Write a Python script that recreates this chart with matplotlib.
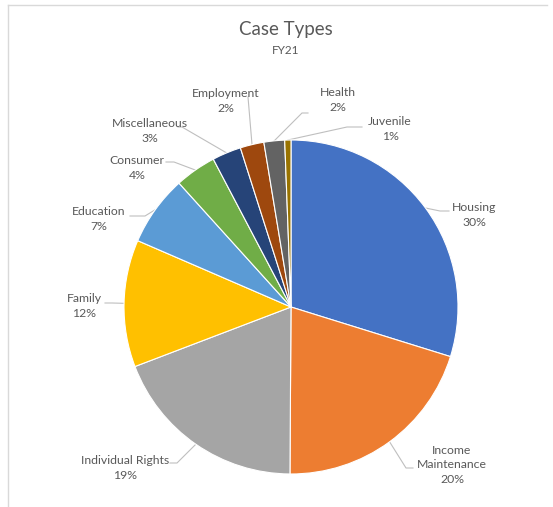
import numpy as np
import matplotlib.pyplot as plt

W, H = 553, 507

categorias = ["Housing", "Income\nMaintenance", "Individual Rights", "Family", "Education",
              "Consumer", "Miscellaneous", "Employment", "Health", "Juvenile"]
porcentajes = [29.8, 20.3, 19.1, 12.3, 6.8, 4.0, 2.8, 2.3, 2.0, 0.6]
colores = ["#4472C4", "#ED7D31", "#A5A5A5", "#FFC000", "#5B9BD5",
           "#70AD47", "#264478", "#9E480E", "#636363", "#997300"]

# posiciones de etiquetas (pixeles) y codos de las lineas guia
pos_etiquetas = [(474, 215), (452, 465), (125, 468), (84, 306), (99, 219),
                 (137, 168), (150, 131), (226, 101), (338, 100), (390, 129)]
codos = [[(449, 211), (440, 211)],
         [(413, 468), (406, 468)],
         [(170, 463), (177, 463)],
         [(105, 303), (112, 303)],
         [(130, 216), (145, 216)],
         [(166, 162), (174, 162)],
         [(178, 127), (182, 127)],
         [(248, 97)],
         [(308, 113), (302, 113)],
         [(362, 127), (347, 127)]]

centro = (291, H - 307)
radio = 167
gris_texto = "#595959"

plt.rcParams["font.family"] = ["Lato", "DejaVu Sans"]

fig = plt.figure(figsize=(W / 100, H / 100), dpi=100)
ax = fig.add_axes([0, 0, 1, 1])

# borde del grafico
ax.plot([8, 8], [0, H - 5], color="#D9D9D9", lw=1)
ax.plot([8, W - 6], [H - 5, H - 5], color="#D9D9D9", lw=1)

wedges, _ = ax.pie(porcentajes, colors=colores, startangle=90, counterclock=False,
                   center=centro, radius=radio, frame=True,
                   wedgeprops=dict(edgecolor="white", linewidth=0.8))
ax.set_xlim(0, W)
ax.set_ylim(0, H)
ax.axis("off")

for w, nombre, v, (lx, ly), codo in zip(wedges, categorias, porcentajes, pos_etiquetas, codos):
    ang = np.deg2rad((w.theta1 + w.theta2) / 2)
    px = centro[0] + radio * np.cos(ang)
    py = centro[1] + radio * np.sin(ang)
    xs = [c[0] for c in codo] + [px]
    ys = [H - c[1] for c in codo] + [py]
    ax.plot(xs, ys, color="#BFBFBF", lw=0.8, zorder=0)
    ax.text(lx, H - ly, f"{nombre}\n{round(v)}%", ha="center", va="center",
            multialignment="center", fontsize=8.8, color=gris_texto, linespacing=1.4)

ax.text(286, H - 29, "Case Types", ha="center", va="center", fontsize=13.5, color=gris_texto)
ax.text(286, H - 51, "FY21", ha="center", va="center", fontsize=8.5, color=gris_texto)

fig.savefig("out.png", dpi=100)
